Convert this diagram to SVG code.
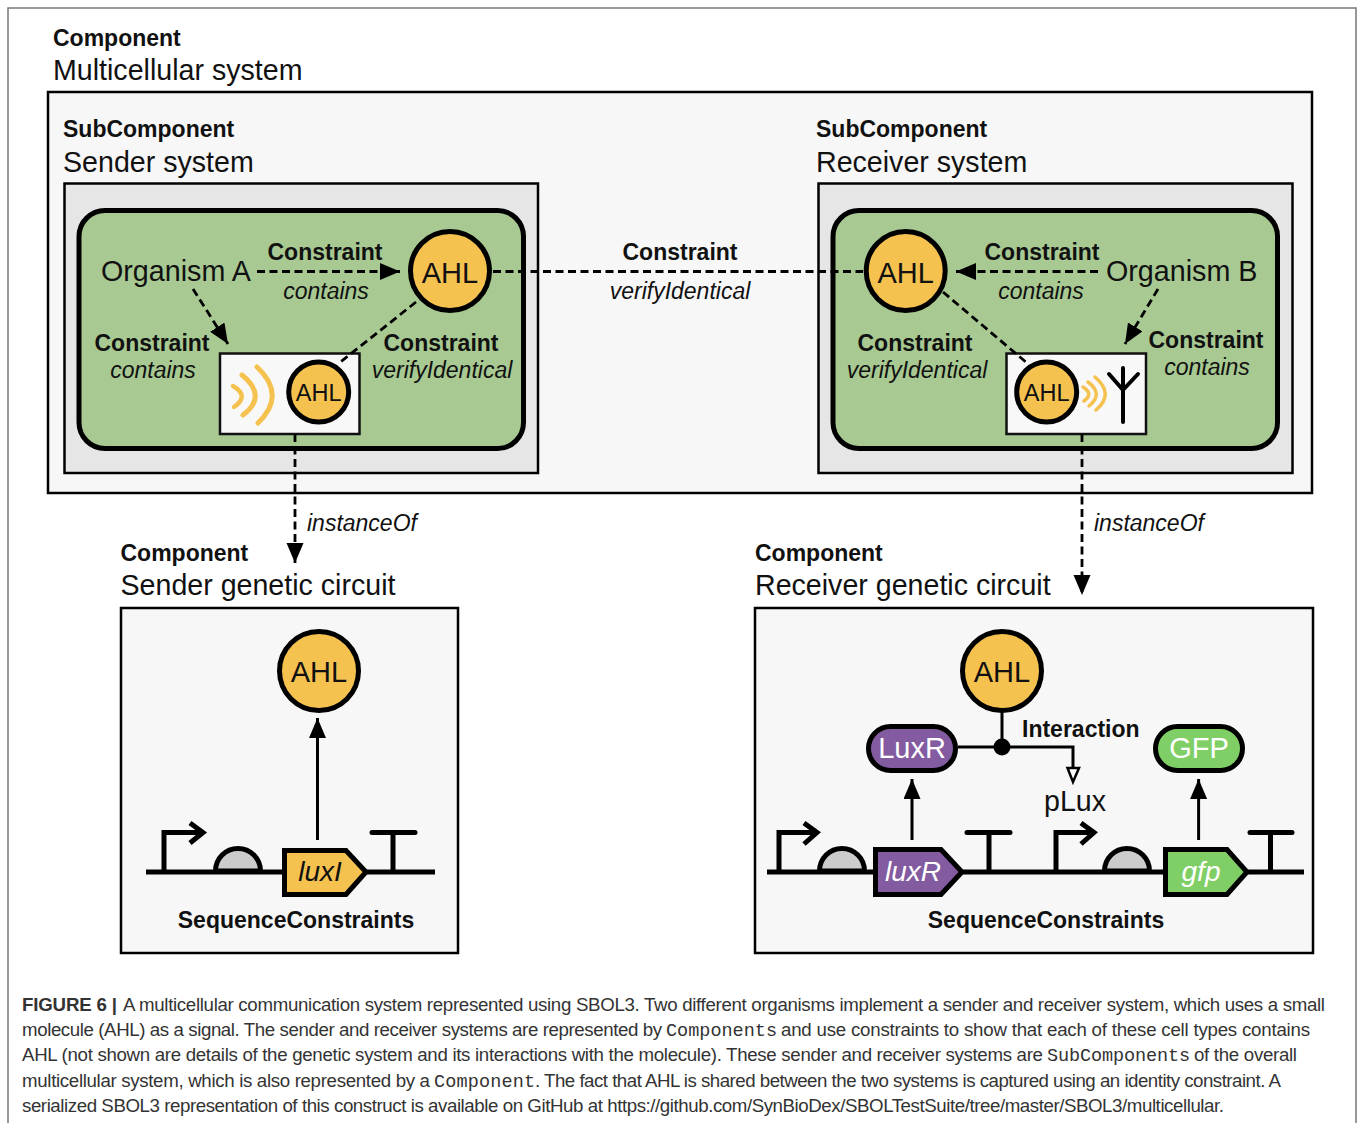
<svg xmlns="http://www.w3.org/2000/svg" width="1358" height="1123" viewBox="0 0 1358 1123">
<style>
text{font-family:"Liberation Sans",Arial,sans-serif;fill:#111}
.b{font-weight:700;font-size:23px}
.i{font-style:italic;font-size:23px}
.t{font-size:28.6px}
.o{font-size:28.7px}
.m{text-anchor:middle}
.a1{font-size:29px;text-anchor:middle}
.a2{font-size:23.5px;text-anchor:middle}
.box{fill:#f7f7f7;stroke:#000;stroke-width:2.5}
.gray{fill:#e6e6e6;stroke:#000;stroke-width:2.5}
.cell{fill:#a8c992;stroke:#000;stroke-width:5}
.white{fill:#f8f8f8;stroke:#111;stroke-width:2.5}
.ahl{fill:#f5c250;stroke:#000;stroke-width:5}
.wave{fill:none;stroke:#f5c250;stroke-linecap:round}
.dash{fill:none;stroke:#000;stroke-width:2.8;stroke-dasharray:8 4.5}
.sol{fill:none;stroke:#000;stroke-width:3}
.gl{fill:none;stroke:#000;stroke-width:5}
.rbs{fill:#ccc;stroke:#000;stroke-width:5}
.cap{font-size:18.7px;fill:#333}
.mono{font-family:"Liberation Mono","Courier New",monospace;font-size:18.5px;fill:#333}
</style>
<defs>
<marker id="ah" markerUnits="userSpaceOnUse" markerWidth="22" markerHeight="18" refX="20" refY="8.500" orient="auto"><path d="M0,0L20,8.500L0,17z" fill="#000"/></marker>
</defs>
<rect width="1358" height="1123" fill="#fff"/>
<path id="page-frame" d="M8,1123V8H1356V1123" fill="none" stroke="#777" stroke-width="1.5"/>

<g id="multicellular-system">
<text x="53" y="46" class="b">Component</text>
<text x="53" y="80" class="t">Multicellular system</text>
<rect x="48" y="92" width="1264" height="401" class="box"/>
</g>

<g id="sender-system">
<text x="63" y="137" class="b">SubComponent</text>
<text x="63" y="172" class="t">Sender system</text>
<rect x="64.500" y="183.500" width="473.500" height="289.500" class="gray"/>
<rect x="79" y="210.500" width="444.500" height="238" rx="26" class="cell"/>
</g>
<g id="organism-a"><text x="101" y="281" class="o">Organism A</text></g>
<g id="ahl-a"><circle cx="450" cy="271" r="39.500" class="ahl"/><text x="450" y="283" class="a1">AHL</text></g>
<g id="sender-device">
<rect x="220" y="353.500" width="139.500" height="80.500" class="white"/>
<path class="wave" stroke-width="4.500" d="M233,386Q250,396 234,407"/>
<path class="wave" stroke-width="5" d="M242,375Q268,396 243,415"/>
<path class="wave" stroke-width="5" d="M257,367Q287,395 258,423"/>
<circle cx="318.700" cy="392" r="30" class="ahl"/><text x="318.700" y="400.500" class="a2">AHL</text>
</g>

<g id="receiver-system">
<text x="816" y="137" class="b">SubComponent</text>
<text x="816" y="172" class="t">Receiver system</text>
<rect x="818.500" y="183.500" width="474" height="289.500" class="gray"/>
<rect x="833" y="210.500" width="444.500" height="238" rx="26" class="cell"/>
</g>
<g id="organism-b"><text x="1106" y="281" class="o">Organism B</text></g>
<g id="ahl-b"><circle cx="905.700" cy="271" r="39.500" class="ahl"/><text x="905.700" y="283" class="a1">AHL</text></g>
<g id="receiver-device">
<rect x="1006.500" y="353.500" width="139.500" height="80.500" class="white"/>
<path class="wave" stroke-width="3.500" d="M1083,387Q1094,394 1084,401"/>
<path class="wave" stroke-width="3.500" d="M1088,382Q1104,394 1089,406"/>
<path class="wave" stroke-width="3.500" d="M1095,377Q1115,394 1096,410"/>
<circle cx="1046.700" cy="392" r="30" class="ahl"/><text x="1046.700" y="400.500" class="a2">AHL</text>
<path d="M1123,368V422M1109,374L1123,390L1138,374" fill="none" stroke="#000" stroke-width="4" stroke-linecap="round" stroke-linejoin="round"/>
</g>

<g id="sender-circuit">
<text x="120.500" y="561" class="b">Component</text>
<text x="120.500" y="595" class="t">Sender genetic circuit</text>
<rect x="121" y="608" width="337" height="345" class="box"/>
<text x="296" y="928" class="b m">SequenceConstraints</text>
</g>
<g id="ahl-sender-circuit"><circle cx="319" cy="671" r="39.500" class="ahl"/><text x="319" y="682" class="a1">AHL</text></g>
<g id="sender-backbone">
<path class="gl" d="M146,872H435"/>
<path class="gl" d="M164,872V832.500H201M190,823L203,832.500L190,843"/>
<path class="rbs" d="M215.500,871A22.500,22.500 0 0 1 260.500,871z"/>
<path id="luxI" d="M284.500,850.500H346L366,872L346,894.500H284.500z" fill="#f5c250" stroke="#000" stroke-width="5"/>
<text x="320" y="881" class="i m" style="font-size:28px">luxI</text>
<path class="gl" d="M393,872V832" /><path d="M372,832.500H415" fill="none" stroke="#000" stroke-width="5" stroke-linecap="round"/>
</g>

<g id="receiver-circuit">
<text x="755" y="561" class="b">Component</text>
<text x="755" y="595" class="t">Receiver genetic circuit</text>
<rect x="755" y="608" width="558" height="345" class="box"/>
<text x="1046" y="928" class="b m">SequenceConstraints</text>
</g>
<g id="ahl-receiver-circuit"><circle cx="1002" cy="671" r="39.500" class="ahl"/><text x="1002" y="682" class="a1">AHL</text></g>
<g id="luxr-protein"><rect x="868.500" y="726.500" width="87" height="44" rx="22" fill="#835ba0" stroke="#000" stroke-width="5"/><text x="912" y="758" class="a1" style="fill:#fff">LuxR</text></g>
<g id="gfp-protein"><rect x="1155.500" y="726.500" width="87" height="44" rx="22" fill="#7fcf66" stroke="#000" stroke-width="5"/><text x="1199" y="758" class="a1" style="fill:#fff">GFP</text></g>
<g id="receiver-backbone">
<path class="gl" d="M767,872H1304"/>
<path class="gl" d="M779,872V832.500H816M804,823L817,832.500L804,844"/>
<path class="rbs" d="M819.500,871A22.500,22.500 0 0 1 864.500,871z"/>
<path id="luxR" d="M875.500,849.500H941L962,872L941,894.500H875.500z" fill="#835ba0" stroke="#000" stroke-width="5"/>
<text x="913" y="881" class="i m" style="font-size:28px;fill:#fff">luxR</text>
<path class="gl" d="M989,872V832"/><path d="M967,832.500H1010" fill="none" stroke="#000" stroke-width="5" stroke-linecap="round"/>
<path class="gl" d="M1056,872V832.500H1093M1081,823L1094,832.500L1081,844"/>
<path class="rbs" d="M1104.500,871A22.500,22.500 0 0 1 1149.500,871z"/>
<path id="gfp" d="M1165.500,849.500H1227L1247,872L1227,894.500H1165.500z" fill="#7fcf66" stroke="#000" stroke-width="5"/>
<text x="1201" y="881" class="i m" style="font-size:28px;fill:#fff">gfp</text>
<path class="gl" d="M1270.500,872V832"/><path d="M1250,832.500H1292" fill="none" stroke="#000" stroke-width="5" stroke-linecap="round"/>
</g>
<g id="plux"><text x="1075" y="811" class="t m">pLux</text></g>

<g id="connectors">
<path class="dash" d="M257,271.500H400" marker-end="url(#ah)"/>
<path class="dash" d="M193,289L228,344" marker-end="url(#ah)"/>
<path class="dash" d="M416,302L338,364"/>
<path class="dash" d="M493,271.500H863"/>
<path class="dash" d="M1098,271.500H956" marker-end="url(#ah)"/>
<path class="dash" d="M1158,289L1125,344" marker-end="url(#ah)"/>
<path class="dash" d="M943,292L1027,363"/>
<path class="dash" d="M295,434V563" marker-end="url(#ah)"/>
<path class="dash" d="M1082,434V595" marker-end="url(#ah)"/>
<path class="sol" d="M317.500,840V718" marker-end="url(#ah)"/>
<path class="sol" d="M912,840V779" marker-end="url(#ah)"/>
<path class="sol" d="M1198.600,840V779" marker-end="url(#ah)"/>
<path class="sol" d="M1002,711V747"/>
<path class="sol" d="M958,747H1073V767"/>
<circle cx="1002" cy="747" r="8.500" fill="#000"/>
<path d="M1067.500,768H1079L1073,782z" fill="#fff" stroke="#000" stroke-width="2.500"/>
</g>

<g id="labels">
<text x="325" y="260" class="b m">Constraint</text><text x="326" y="299" class="i m">contains</text>
<text x="152" y="351" class="b m">Constraint</text><text x="153" y="378" class="i m">contains</text>
<text x="441" y="351" class="b m">Constraint</text><text x="442" y="378" class="i m">verifyIdentical</text>
<text x="680" y="260" class="b m">Constraint</text><text x="680" y="299" class="i m">verifyIdentical</text>
<text x="1042" y="260" class="b m">Constraint</text><text x="1041" y="299" class="i m">contains</text>
<text x="915" y="351" class="b m">Constraint</text><text x="917" y="378" class="i m">verifyIdentical</text>
<text x="1206" y="348" class="b m">Constraint</text><text x="1207" y="375" class="i m">contains</text>
<text x="307" y="531" class="i">instanceOf</text>
<text x="1094" y="531" class="i">instanceOf</text>
<text x="1022" y="737" class="b">Interaction</text>
</g>

<g id="caption">
<text x="22" y="1011" class="cap" font-weight="700" textLength="95" lengthAdjust="spacing">FIGURE 6 |</text>
<text x="123" y="1011" class="cap" textLength="1202" lengthAdjust="spacing">A multicellular communication system represented using SBOL3. Two different organisms implement a sender and receiver system, which uses a small</text>
<text x="22" y="1036" class="cap" textLength="640" lengthAdjust="spacing">molecule (AHL) as a signal. The sender and receiver systems are represented by</text>
<text x="666" y="1036" class="mono" textLength="111" lengthAdjust="spacing">Components</text>
<text x="781" y="1036" class="cap" textLength="529" lengthAdjust="spacing">and use constraints to show that each of these cell types contains</text>
<text x="22" y="1061" class="cap" textLength="1021" lengthAdjust="spacing">AHL (not shown are details of the genetic system and its interactions with the molecule). These sender and receiver systems are</text>
<text x="1047" y="1061" class="mono" textLength="143" lengthAdjust="spacing">SubComponents</text>
<text x="1194" y="1061" class="cap" textLength="103" lengthAdjust="spacing">of the overall</text>
<text x="22" y="1087" class="cap" textLength="408" lengthAdjust="spacing">multicellular system, which is also represented by a</text>
<text x="434" y="1087" class="mono" textLength="101" lengthAdjust="spacing">Component</text>
<text x="535" y="1087" class="cap" textLength="746" lengthAdjust="spacing">. The fact that AHL is shared between the two systems is captured using an identity constraint. A</text>
<text x="22" y="1112" class="cap" textLength="1202" lengthAdjust="spacing">serialized SBOL3 representation of this construct is available on GitHub at https://github.com/SynBioDex/SBOLTestSuite/tree/master/SBOL3/multicellular.</text>
</g>
</svg>
